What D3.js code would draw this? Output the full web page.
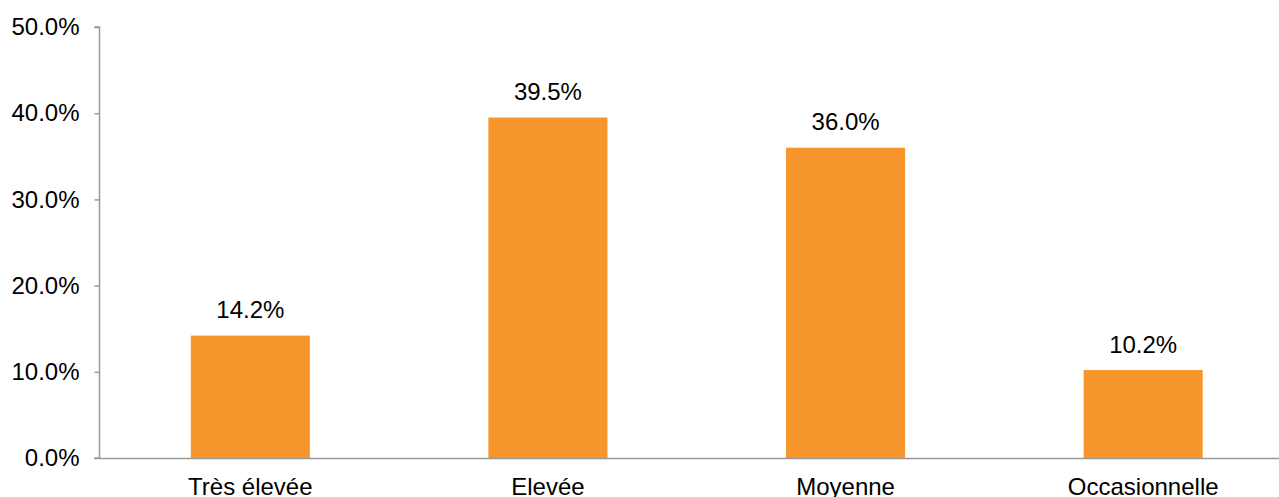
<!DOCTYPE html>
<html>
<head>
<meta charset="utf-8">
<script src="https://cdn.jsdelivr.net/npm/d3@7"></script>
<style>
  body { margin: 0; background: #fff; }
  svg text { font-family: "Liberation Sans", Arial, sans-serif; }
</style>
</head>
<body>
<script>
var categories = ["Très élevée", "Elevée", "Moyenne", "Occasionnelle"];
var values = [14.2, 39.5, 36.0, 10.2];
var yTicks = [0, 10, 20, 30, 40, 50];

var width = 1279;
var height = 497;
var fontSize = 24;

var svg = d3.select("body")
            .append("svg")
            .attr("width", width)
            .attr("height", height)

var xScale = d3.scaleBand()
               .domain(categories)
               .range([101.5, 1292])
               .paddingInner(0.6)
               .paddingOuter(0.3);

var yScale = d3.scaleLinear()
               .domain([0, 50])
               .range([458, 27]);

// bars
svg.selectAll("rect")
   .data(values)
   .enter()
   .append("rect")
   .attr("x", function(d, i) { return xScale(categories[i]) })
   .attr("y", function(d) { return yScale(d) })
   .attr("width", xScale.bandwidth())
   .attr("height", function(d) { return yScale(0) - yScale(d) })
   .attr("fill", "#F7962A")

// value labels
svg.selectAll(".val")
   .data(values)
   .enter()
   .append("text")
   .attr("class", "val")
   .attr("x", function(d, i) { return xScale(categories[i]) + xScale.bandwidth() / 2 })
   .attr("y", function(d) { return yScale(d) - 17.5 })
   .attr("text-anchor", "middle")
   .attr("font-size", fontSize)
   .attr("fill", "#000")
   .text(function(d) { return d.toFixed(1) + "%" })

// y axis
var yAxis = d3.axisLeft(yScale)
              .tickValues(yTicks)
              .tickSize(5)
              .tickPadding(15)
              .tickFormat(function(d) { return d.toFixed(1) + "%" });

var gy = svg.append("g")
            .attr("transform", "translate(99.5,0)")
            .call(yAxis)
gy.select(".domain").attr("stroke", "#999").attr("stroke-width", 1.5).attr("d", "M-5,27H0V458H-5");
gy.selectAll(".tick line").attr("stroke", "#999").attr("stroke-width", 1.5);
gy.selectAll(".tick text").attr("font-size", fontSize).attr("fill", "#000")
  .attr("font-family", "Liberation Sans, Arial, sans-serif");

// x axis
var xAxis = d3.axisBottom(xScale).tickSize(0).tickPadding(19.5);
var gx = svg.append("g")
            .attr("transform", "translate(0,458.5)")
            .call(xAxis)
gx.select(".domain").attr("stroke", "#999").attr("stroke-width", 1.5).attr("d", "M99.5,0H1279");
gx.selectAll(".tick text").attr("font-size", fontSize).attr("fill", "#000")
  .attr("font-family", "Liberation Sans, Arial, sans-serif");
</script>
</body>
</html>
